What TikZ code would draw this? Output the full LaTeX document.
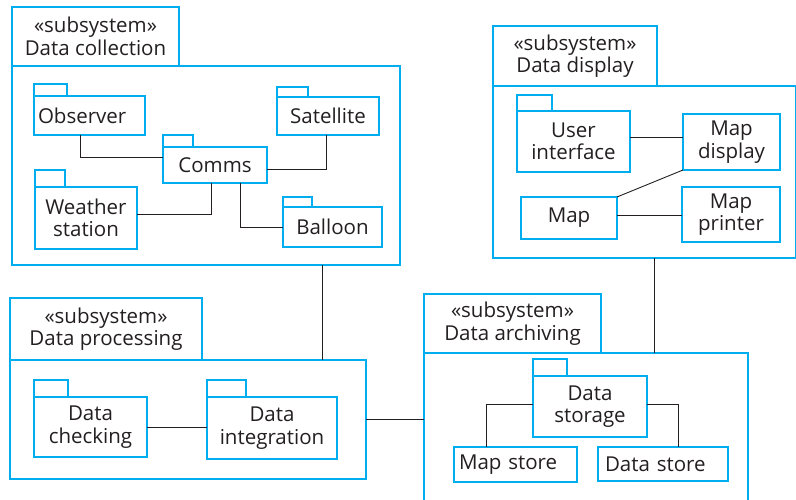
\documentclass[tikz,border=0pt]{standalone}
\usepackage{fontspec}
\setmainfont{Open Sans}
\usetikzlibrary{positioning}
\definecolor{umlblue}{HTML}{00AEEF}
\definecolor{ink}{HTML}{231F20}
\tikzset{
  pkg/.style={draw=umlblue, line width=2.2pt, inner sep=0pt, outer sep=0pt,
    anchor=north west, align=center, text=ink,
    font=\fontsize{20.5}{22.5}\selectfont},
  pkgtab/.style={pkg, anchor=south west},
  link/.style={draw=ink, line width=0.9pt},
}
\begin{document}
\begin{tikzpicture}[x=1pt,y=-1pt]
\useasboundingbox (0,0) rectangle (796,500);
% Data collection
\node[pkg, minimum width=388, minimum height=199] (collect) at (12,66) {};
\node[pkgtab, minimum width=167, minimum height=59] (collecttab) at (collect.north west) {«subsystem»\\Data collection};
\node[pkg, minimum width=111, minimum height=39, align=left, text width=103] (obs) at (34,96) {Observer};
\node[pkgtab, minimum width=33, minimum height=12] (obstab) at (obs.north west) {};
\node[pkg, minimum width=102, minimum height=38] (sat) at (277,97) {Satellite};
\node[pkgtab, minimum width=31, minimum height=10] (sattab) at (sat.north west) {};
\node[pkg, minimum width=104, minimum height=36] (comms) at (163,147) {Comms};
\node[pkgtab, minimum width=30, minimum height=12] (commstab) at (comms.north west) {};
\node[pkg, minimum width=102, minimum height=62] (weather) at (35,187) {Weather\\station};
\node[pkgtab, minimum width=30, minimum height=17] (weathertab) at (weather.north west) {};
\node[pkg, minimum width=99, minimum height=40] (balloon) at (283,207) {Balloon};
\node[pkgtab, minimum width=29, minimum height=10] (balloontab) at (balloon.north west) {};
\draw[link] ([xshift=-9.5]obs.south) |- ([yshift=8]comms.west);
\draw[link] ([yshift=-4]comms.east) -| ([xshift=-2]sat.south);
\draw[link] ([xshift=-4]comms.south) |- ([yshift=4]weather.east);
\draw[link] ([xshift=25]comms.south) |- (balloon.west);
% Data display
\node[pkg, minimum width=303, minimum height=172] (display) at (493,86) {};
\node[pkgtab, minimum width=164, minimum height=60] (displaytab) at (display.north west) {«subsystem»\\Data display};
\node[pkg, minimum width=113, minimum height=61] (ui) at (517,111) {User\\interface};
\node[pkgtab, minimum width=35, minimum height=16] (uitab) at (ui.north west) {};
\node[pkg, minimum width=97, minimum height=56] (mapdisp) at (683,114) {Map\\display};
\node[pkg, minimum width=96, minimum height=42] (map) at (521,197) {Map};
\node[pkg, minimum width=98, minimum height=55] (printer) at (682,187) {Map\\printer};
\draw[link] ([yshift=4.5]ui.east) -- ([yshift=5]mapdisp.west);
\draw[link] (map.north east) -- (mapdisp.south west);
\draw[link] ([yshift=3]map.east) -- ([yshift=-0.5]printer.west);
% Data processing
\node[pkg, minimum width=356, minimum height=119] (process) at (10,360) {};
\node[pkgtab, minimum width=192, minimum height=62] (processtab) at (process.north west) {«subsystem»\\Data processing};
\node[pkg, minimum width=113, minimum height=60] (check) at (34,397) {Data\\checking};
\node[pkgtab, minimum width=34, minimum height=17] (checktab) at (check.north west) {};
\node[pkg, minimum width=130, minimum height=62] (integ) at (207,397) {Data\\integration};
\node[pkgtab, minimum width=39, minimum height=17] (integtab) at (integ.north west) {};
\draw[link] (check.east) -- (check.east -| integ.west);
% Data archiving
\node[pkg, minimum width=324, minimum height=150] (archive) at (424,353) {};
\node[pkgtab, minimum width=177, minimum height=59] (archivetab) at (archive.north west) {«subsystem»\\Data archiving};
\node[pkg, minimum width=114, minimum height=61] (storage) at (533,376) {Data\\storage};
\node[pkgtab, minimum width=34, minimum height=17] (storagetab) at (storage.north west) {};
\node[pkg, minimum width=123, minimum height=35, align=left, text width=113] (mapstore) at (454,447) {Map store};
\node[pkg, minimum width=130, minimum height=34, align=left, text width=116] (datastore) at (598,447) {Data store};
\draw[link] ([yshift=2.5]storage.west) -| ([xshift=-29.5]mapstore.north);
\draw[link] ([yshift=2.5]storage.east) -| ([xshift=15]datastore.north);
% subsystem links
\draw[link] ([xshift=310]collect.south west) -- ([xshift=312]process.north west);
\draw[link] (process.east) -- (process.east -| archive.west);
\draw[link] ([xshift=161]display.south west) -- ([xshift=230]archive.north west);
\end{tikzpicture}
\end{document}
